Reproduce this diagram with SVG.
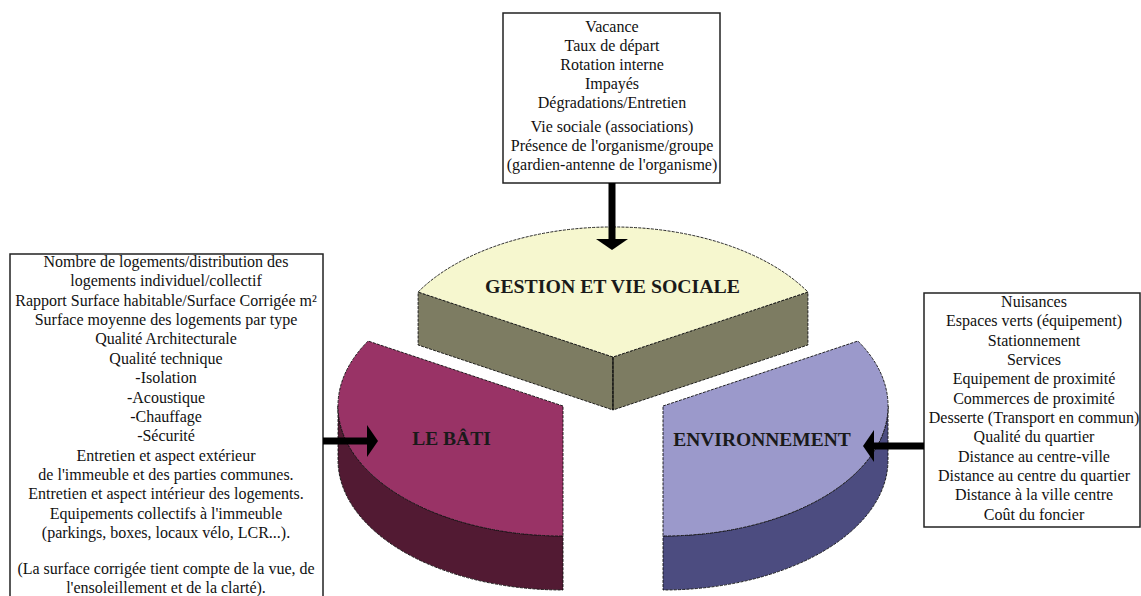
<svg xmlns="http://www.w3.org/2000/svg" width="1141" height="596" viewBox="0 0 1141 596">
<style>
.box{fill:#fff;stroke:#222;stroke-width:1.5}
.t{font-family:"Liberation Serif","Times New Roman",serif;font-size:16px;fill:#111;text-anchor:middle}
.lbl{font-family:"Liberation Serif","Times New Roman",serif;font-size:19.5px;font-weight:bold;fill:#1a1a1a;text-anchor:middle}
.edge{stroke:#111;stroke-width:0.9;stroke-dasharray:3 1.2;stroke-linejoin:round}
.conn{stroke:#000;stroke-width:7;fill:none}
</style>
<defs>
<marker id="ah" markerUnits="userSpaceOnUse" markerWidth="12" markerHeight="32" refX="0" refY="16" orient="auto">
<path d="M0,0 L11,16 L0,32 Z" fill="#000"/>
</marker>
</defs>
<rect width="1141" height="596" fill="#fff"/>

<g id="pie-gestion">
<path class="edge" d="M418.1,292 L613,357 L613,410 L418.1,345 Z" fill="#7d7c62"/>
<path class="edge" d="M807.9,292 L613,357 L613,410 L807.9,345 Z" fill="#7d7c62"/>
<path class="edge" d="M613,357 L418.1,292 A225 130 0 0 1 807.9,292 Z" fill="#f6f7cf"/>
<line x1="613" y1="357" x2="613" y2="410" stroke="#111" stroke-width="1"/>
<text class="lbl" x="612.5" y="293" textLength="255" lengthAdjust="spacingAndGlyphs">GESTION ET VIE SOCIALE</text>
</g>

<g id="pie-bati">
<path class="edge" d="M338,406 A225 130 0 0 0 563,536 L563,590 A225 130 0 0 1 338,460 Z" fill="#521a33"/>
<path class="edge" d="M563,406 L368.1,341 A225 130 0 0 0 563,536 Z" fill="#993366"/>
<text class="lbl" x="451.5" y="445">LE BÂTI</text>
</g>

<g id="pie-environnement">
<path class="edge" d="M888,406 A225 130 0 0 1 663,536 L663,590 A225 130 0 0 0 888,460 Z" fill="#4c4c80"/>
<path class="edge" d="M663,406 L857.9,341 A225 130 0 0 1 663,536 Z" fill="#9b99cb"/>
<text class="lbl" x="762" y="446">ENVIRONNEMENT</text>
</g>

<g id="box-gestion">
<rect class="box" x="503" y="13" width="217" height="170"/>
<text class="t" x="612" y="32">Vacance</text>
<text class="t" x="612" y="51">Taux de départ</text>
<text class="t" x="612" y="70">Rotation interne</text>
<text class="t" x="612" y="89">Impayés</text>
<text class="t" x="612" y="108">Dégradations/Entretien</text>
<text class="t" x="612" y="132">Vie sociale (associations)</text>
<text class="t" x="612" y="151">Présence de l'organisme/groupe</text>
<text class="t" x="612" y="170">(gardien-antenne de l'organisme)</text>
</g>

<g id="box-bati">
<rect class="box" x="10" y="254" width="313" height="360"/>
<text class="t" x="166" y="267">Nombre de logements/distribution des</text>
<text class="t" x="166" y="286.4">logements individuel/collectif</text>
<text class="t" x="166" y="305.7">Rapport Surface habitable/Surface Corrigée m²</text>
<text class="t" x="166" y="325">Surface moyenne des logements par type</text>
<text class="t" x="166" y="344.4">Qualité Architecturale</text>
<text class="t" x="166" y="363.8">Qualité technique</text>
<text class="t" x="166" y="383.2">-Isolation</text>
<text class="t" x="166" y="402.5">-Acoustique</text>
<text class="t" x="166" y="421.9">-Chauffage</text>
<text class="t" x="166" y="441.2">-Sécurité</text>
<text class="t" x="166" y="460.6">Entretien et aspect extérieur</text>
<text class="t" x="166" y="480">de l'immeuble et des parties communes.</text>
<text class="t" x="166" y="499.3">Entretien et aspect intérieur des logements.</text>
<text class="t" x="166" y="518.7">Equipements collectifs à l'immeuble</text>
<text class="t" x="166" y="538">(parkings, boxes, locaux vélo, LCR...).</text>
<text class="t" x="166" y="574">(La surface corrigée tient compte de la vue, de</text>
<text class="t" x="166" y="593">l'ensoleillement et de la clarté).</text>
</g>

<g id="box-environnement">
<rect class="box" x="924" y="293" width="216" height="234"/>
<text class="t" x="1034" y="307">Nuisances</text>
<text class="t" x="1034" y="326">Espaces verts (équipement)</text>
<text class="t" x="1034" y="345.5">Stationnement</text>
<text class="t" x="1034" y="365">Services</text>
<text class="t" x="1034" y="384">Equipement de proximité</text>
<text class="t" x="1034" y="403.5">Commerces de proximité</text>
<text class="t" x="1034" y="423">Desserte (Transport en commun)</text>
<text class="t" x="1034" y="442">Qualité du quartier</text>
<text class="t" x="1034" y="461.5">Distance au centre-ville</text>
<text class="t" x="1034" y="481">Distance au centre du quartier</text>
<text class="t" x="1034" y="500">Distance à la ville centre</text>
<text class="t" x="1034" y="519.5">Coût du foncier</text>
</g>

<g id="connectors">
<line class="conn" x1="612" y1="183" x2="612" y2="239" marker-end="url(#ah)"/>
<line class="conn" x1="323" y1="441" x2="367" y2="441" marker-end="url(#ah)"/>
<line class="conn" x1="924" y1="446" x2="874" y2="446" marker-end="url(#ah)"/>
</g>
</svg>
